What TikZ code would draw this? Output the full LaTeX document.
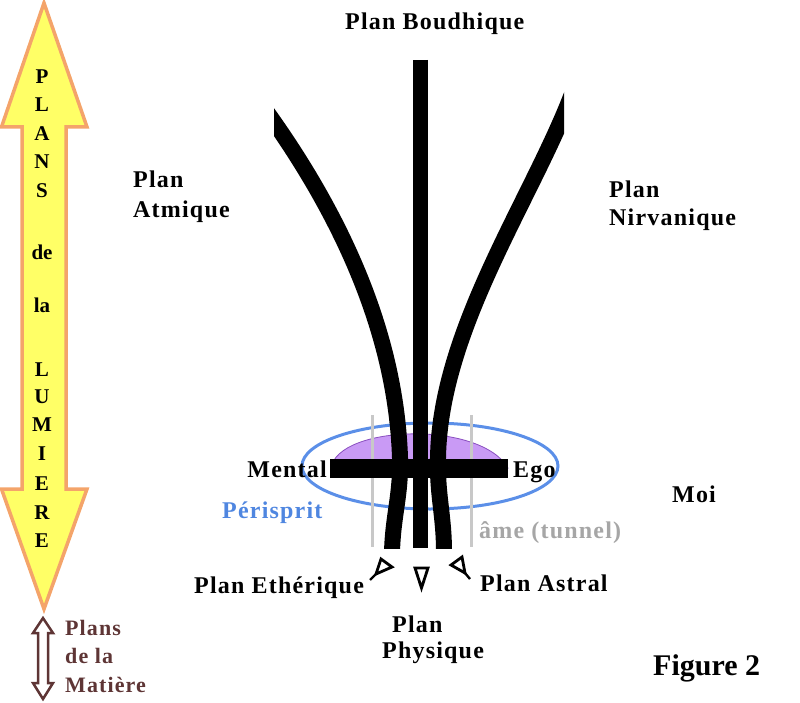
\documentclass[tikz,border=0pt]{standalone}
\usepackage{fontspec}
\setmainfont{Liberation Serif}
\newfontfamily\lblfont[LetterSpace=5]{Liberation Serif}
\usetikzlibrary{arrows.meta}
\definecolor{arrfill}{HTML}{FFFF66}
\definecolor{arrline}{HTML}{F4A46A}
\definecolor{brownish}{HTML}{5E3535}
\definecolor{blueell}{HTML}{5B8FE8}
\definecolor{bluetxt}{HTML}{4F86E0}
\definecolor{purplefill}{HTML}{C99AF5}
\definecolor{purpleline}{HTML}{8A4FC0}
\definecolor{grayline}{HTML}{C8C8C8}
\definecolor{graytxt}{HTML}{A6A6A6}
\tikzset{
  lbl/.style={font=\lblfont\fontsize{24}{28}\selectfont\bfseries, inner sep=0pt, anchor=base west},
  letter/.style={font=\fontsize{21}{24}\selectfont\bfseries, inner sep=0pt, anchor=base},
  mat/.style={font=\lblfont\fontsize{22}{26}\selectfont\bfseries, inner sep=0pt, anchor=base west, text=brownish},
  beam/.style={line width=16pt, line cap=butt},
  tri/.style={line width=2.8pt, line join=miter},
}
\begin{document}
\begin{tikzpicture}[x=1pt, y=-1pt]
\useasboundingbox (0,0) rectangle (800,703);
% left big double arrow
\draw[fill=arrfill, draw=arrline, line width=3.5pt, line join=miter]
  (44,3) -- (87,127) -- (66,127) -- (66,489) -- (87,489) -- (44,609)
  -- (1.5,489) -- (22,489) -- (22,127) -- (1.5,127) -- cycle;
\node[letter] (l1) at (42,84) {P};
\node[letter] (l2) at (42,112) {L};
\node[letter] (l3) at (42,141) {A};
\node[letter] (l4) at (42,169) {N};
\node[letter] (l5) at (42,198) {S};
\node[letter] (l6) at (42,259) {de};
\node[letter] (l7) at (42,312) {la};
\node[letter] (l8) at (42,376) {L};
\node[letter] (l9) at (42,403) {U};
\node[letter] (l10) at (42,431) {M};
\node[letter] (l11) at (42,460) {I};
\node[letter] (l12) at (42,490) {E};
\node[letter] (l13) at (42,519) {R};
\node[letter] (l14) at (42,547) {E};
% small double arrow
\draw[fill=white, draw=brownish, line width=2.5pt, line join=miter]
  (43,618) -- (53,633) -- (48,633) -- (48,683) -- (53,683) -- (43,699)
  -- (33,683) -- (38,683) -- (38,633) -- (33,633) -- cycle;
\node[mat] (m1) at (65,635) {Plans};
\node[mat] (m2) at (65,663) {de la};
\node[mat] (m3) at (65,692) {Matière};
% purple dome
\draw[fill=purplefill, draw=purpleline, line width=0.8pt]
  (331,468) .. controls (338,425) and (480,420) .. (508,468) -- cycle;
% blue ellipse
\draw[blueell, line width=3pt] (430,466) ellipse [x radius=128pt, y radius=43pt];
% gray tunnel lines
\draw[grayline, line width=3pt] (372,415) -- (372,547);
\draw[grayline, line width=3pt] (471,415) -- (471,547);
% horizontal bar
\fill[black] (330,459) rectangle (508,478);
% beams
\begin{scope}
\clip (274,0) rectangle (564,548);
\draw[beam] (264,108) .. controls (338,210) and (396,330) .. (400,458)
  .. controls (401,495) and (393,515) .. (392,552);
\draw[beam] (572,94) .. controls (531,201) and (440,330) .. (438,458)
  .. controls (437,495) and (444,515) .. (444,552);
\end{scope}
\draw[line width=15pt, line cap=butt] (420,60) -- (420,548);
% small arrows (open triangles with short tails)
\coordinate (t1a) at (381,559);
\coordinate (t1b) at (392,567);
\coordinate (t1c) at (376,574);
\coordinate (t1e) at (370,580);
\draw[tri] (t1a) -- (t1b) -- (t1c) -- cycle;
\draw[line width=2.4pt] (t1c) -- (t1e);
\coordinate (t2a) at (415,568);
\coordinate (t2b) at (428,568);
\coordinate (t2c) at (421.5,588);
\draw[tri] (t2a) -- (t2b) -- (t2c) -- cycle;
\coordinate (t3a) at (462,557);
\coordinate (t3b) at (451,565);
\coordinate (t3c) at (465,573);
\coordinate (t3e) at (470,579);
\draw[tri] (t3a) -- (t3b) -- (t3c) -- cycle;
\draw[line width=2.4pt] (t3c) -- (t3e);
% labels
\node[lbl] (boud) at (345,30) {Plan Boudhique};
\node[lbl] (atm1) at (133,188) {Plan};
\node[lbl] (atm2) at (133,218) {Atmique};
\node[lbl] (nir1) at (609,198) {Plan};
\node[lbl] (nir2) at (609,226) {Nirvanique};
\node[lbl, anchor=base east] (mental) at (327,477) {Mental};
\node[lbl] (ego) at (513,477) {Ego};
\node[lbl] (moi) at (672,502) {Moi};
\node[lbl, text=bluetxt] (peri) at (222,518) {Périsprit};
\node[lbl, text=graytxt] (ame) at (479,538) {âme (tunnel)};
\node[lbl] (eth) at (194,593) {Plan Ethérique};
\node[lbl] (ast) at (480,591) {Plan Astral};
\node[lbl] (phy1) at (392,632) {Plan};
\node[lbl] (phy2) at (382,658) {Physique};
\node[lbl, font=\fontsize{30}{34}\selectfont\bfseries] (fig) at (653,675) {Figure 2};
\end{tikzpicture}
\end{document}
